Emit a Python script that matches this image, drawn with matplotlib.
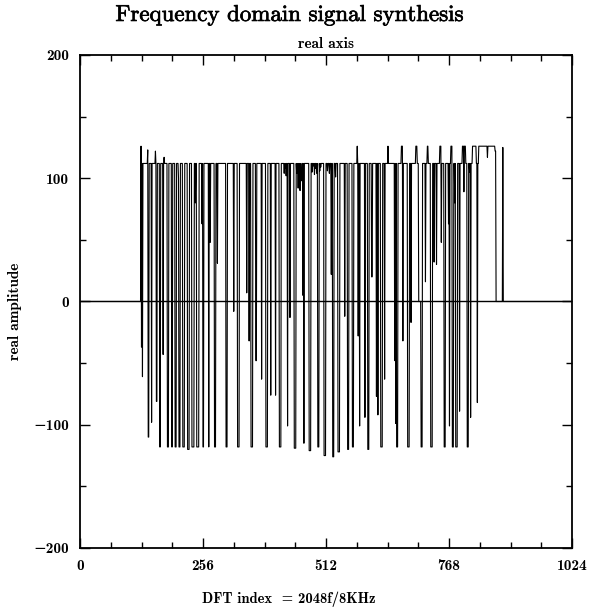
import numpy as np
import matplotlib
matplotlib.use("Agg")
import matplotlib.pyplot as plt
import matplotlib.patheffects as pe
from matplotlib.ticker import MultipleLocator

# DFT bins shown on the real axis
n_bins = 1024

# real part read off the picture as runs of equal amplitude:
# (first bin, last bin, amplitude); later runs overwrite earlier ones
seg_start = [127, 127, 128, 130, 141, 142, 149, 157, 159, 166, 173, 175, 182, 191,
             198, 205, 206, 214, 224, 233, 240, 243, 254, 256, 268, 271, 280, 286,
             304, 320, 328, 347, 352, 356, 366, 378, 387, 397, 407, 415, 425, 427,
             429, 432, 437, 446, 451, 454, 456, 458, 460, 464, 466, 477, 483, 486,
             488, 491, 493, 495, 499, 501, 508, 515, 519, 523, 526, 532, 537, 551,
             557, 567, 577, 579, 582, 593, 599, 607, 617, 620, 626, 634, 641, 655,
             657, 659, 669, 672, 682, 689, 699, 705, 710, 719, 723, 730, 737, 742,
             749, 752, 758, 767, 769, 772, 775, 780, 782, 790, 796, 799, 806, 811,
             813, 817, 827, 830, 848, 864, 866, 880]
seg_end = [865, 127, 128, 130, 141, 143, 149, 157, 160, 167, 173, 175, 184, 192,
           200, 206, 208, 217, 227, 237, 240, 247, 254, 257, 268, 271, 282, 286,
           306, 320, 331, 347, 352, 359, 367, 378, 390, 397, 407, 418, 425, 427,
           429, 432, 437, 449, 452, 454, 456, 458, 461, 464, 466, 480, 483, 486,
           488, 491, 493, 497, 499, 501, 511, 515, 519, 523, 528, 532, 540, 551,
           559, 569, 577, 579, 582, 593, 601, 608, 617, 620, 629, 634, 641, 655,
           657, 661, 671, 672, 685, 689, 701, 709, 712, 719, 724, 733, 737, 742,
           751, 752, 760, 767, 769, 774, 777, 780, 785, 790, 802, 799, 808, 811,
           813, 824, 827, 865, 848, 865, 879, 880]
seg_value = [112, 126, -37, -61, 123, -110, -98, 122, -81, -118, -43, 117, -118, -118,
             -118, 100, -118, -118, -120, -118, 80, -118, 63, -118, -118, 48, -118, 31,
             -118, -8, -118, 7, -32, -118, -48, -63, -118, -76, -76, -118, 104, 108,
             102, -101, -13, -119, 104, 92, 100, 90, 98, 5, -115, -121, 105, 110,
             103, 108, 104, -118, 106, 109, -125, 106, 104, 22, -126, 101, -122, -12,
             -120, -118, 126, -28, -101, -94, -120, 20, -77, -92, -118, -63, 126, -48,
             -99, -118, 126, -32, -118, -17, 126, 0, -118, 16, 126, -118, 32, 30,
             126, 48, -118, 63, -101, 126, -118, 80, -118, -89, 126, 89, -118, 105,
             -94, 126, -82, 126, 117, 122, 0, 125]

x_ticks = [0, 256, 512, 768, 1024]
y_ticks = [-200, -100, 0, 100, 200]
y_tick_labels = ["\u2212200", "\u2212100", "0", "100", "200"]

bold = ["cmb10", "DejaVu Serif"]
roman = ["cmr10", "DejaVu Serif"]


def build_real_axis():
    real = np.zeros(n_bins)
    for s, e, v in zip(seg_start, seg_end, seg_value):
        real[s:e + 1] = v
    return real


def plot_real_axis(real):
    fig = plt.figure(figsize=(5.9, 6.07), dpi=100)
    ax = fig.add_axes([0.1356, 0.0972, 0.8339, 0.8122])

    ax.axhline(0, color="black", lw=1.0)
    ax.plot(np.arange(n_bins), real, color="black", lw=0.8)

    ax.set_xlim(0, 1024)
    ax.set_ylim(-200, 200)
    ax.set_xticks(x_ticks)
    ax.set_xticklabels([str(t) for t in x_ticks], family=bold, fontsize=11)
    ax.set_yticks(y_ticks)
    ax.set_yticklabels(y_tick_labels, family=bold, fontsize=11)
    ax.xaxis.set_minor_locator(MultipleLocator(64))
    ax.yaxis.set_minor_locator(MultipleLocator(50))
    ax.tick_params(which="both", direction="in", top=True, right=True, width=1)
    ax.tick_params(which="major", length=7, pad=8)
    ax.tick_params(which="minor", length=4)
    for sp in ax.spines.values():
        sp.set_linewidth(1.3)

    ax.set_title("real axis", family=bold, fontsize=11, pad=5)
    ax.set_xlabel("DFT index  = 2048f/8KHz", family=bold, fontsize=10.5)
    ax.xaxis.set_label_coords(0.425, -0.089)
    ax.set_ylabel("real amplitude", family=bold, fontsize=11)
    ax.yaxis.set_label_coords(-0.118, 0.48)
    fig.text(0.49, 0.975, "Frequency domain signal synthesis", family=roman,
             fontsize=16.5, ha="center", va="center",
             path_effects=[pe.withStroke(linewidth=0.5, foreground="black")])

    fig.savefig("out.png", dpi=100)


def main():
    real = build_real_axis()
    plot_real_axis(real)


if __name__ == "__main__":
    main()
